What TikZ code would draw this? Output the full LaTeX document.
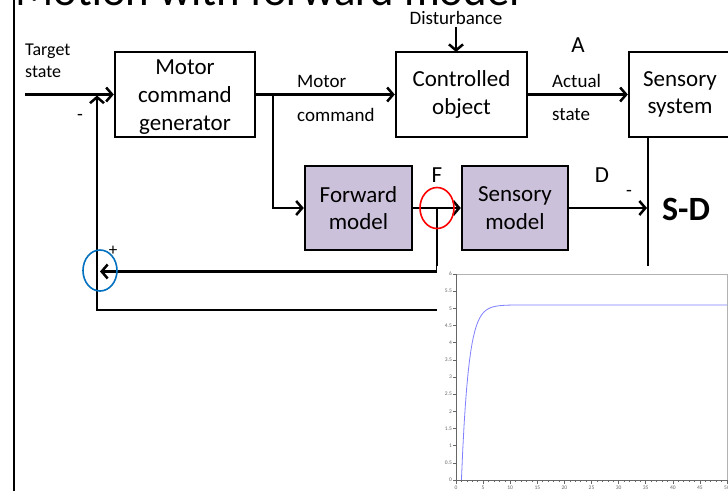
\documentclass[tikz,border=0pt]{standalone}
\usepackage{fontspec}
\setmainfont{Carlito}
\usetikzlibrary{arrows.meta}
\definecolor{lav}{HTML}{CCC1DA}
\definecolor{curveblue}{HTML}{7F7FFF}
\definecolor{sumblue}{HTML}{0070C0}
\begin{document}
\begin{tikzpicture}[x=1pt,y=-1pt,
  blk/.style={draw, line width=2.4pt, align=center, inner sep=0pt,
    font=\fontsize{23}{27.5}\selectfont},
  fblk/.style={blk, fill=lav},
  lbl/.style={inner sep=0pt, font=\fontsize{19}{22}\selectfont},
  big/.style={inner sep=0pt, font=\fontsize{23}{27}\selectfont},
  conn/.style={line width=2.5pt},
  arr/.style={-{Straight Barb[length=6pt,width=14pt]}},
  tick/.style={gray!80!black, line width=0.5pt},
  ticklbl/.style={inner sep=0.5pt, text=gray!80!black, font=\fontsize{5.5}{5.5}\selectfont}]
\useasboundingbox (0,0) rectangle (728,491);
\clip (0,0) rectangle (728,491);
% title and left rule
\node[anchor=base west, inner sep=0pt, font=\fontsize{44.8}{50}\selectfont] (title) at (15,5.5) {Motion with forward model};
\coordinate (rtop) at (14,0);
\coordinate (rbot) at (14,491);
\draw[line width=2.5pt] (rtop) -- (rbot);
% blocks
\node[blk, minimum width=140pt, minimum height=85pt] (mcg) at (185,94.5) {};
\node[inner sep=0pt, align=center, font=\fontsize{23}{28}\selectfont] (mcgt) at (185,97) {Motor\\command\\generator};
\node[blk, minimum width=131pt, minimum height=85pt] (co) at (461.5,94.5) {Controlled\\object};
\node[blk, minimum width=102pt, minimum height=85pt] (ss) at (680,94.5) {Sensory\\system};
\node[fblk, minimum width=107pt, minimum height=84pt] (fm) at (358.5,208) {Forward\\model};
\node[fblk, minimum width=106pt, minimum height=84pt] (sm) at (515,208) {Sensory\\model};
% labels
\node[lbl, anchor=west, align=left, font=\fontsize{18}{22}\selectfont] (tgt) at (25,61) {Target\\state};
\node[lbl] (dist) at (456,17.5) {Disturbance};
\node[big] (lA) at (578,45) {A};
\node[lbl, anchor=west] (mc1) at (297,81) {Motor};
\node[lbl, anchor=west] (mc2) at (297,115) {command};
\node[lbl, anchor=west] (as1) at (552,81) {Actual};
\node[lbl, anchor=west] (as2) at (552,115) {state};
\node[big] (lF) at (437,175) {F};
\node[big] (lD) at (602,175) {D};
\node[lbl] (m1) at (80,117) {-};
\node[lbl] (m2) at (629,193) {-};
\node[lbl, font=\fontsize{17}{20}\selectfont] (p1) at (113,251) {+};
\node[inner sep=0pt, font=\fontsize{34}{40}\selectfont\bfseries] (sd) at (686,209) {S-D};
% connectors
\coordinate (tin) at (25,94.5);
\draw[conn,arr] (tin) -- (mcg.west);
\draw[conn,arr] (mcg.east) -- (co.west);
\coordinate (br1) at (273,94.5);
\draw[conn,arr] (br1) |- (fm.west);
\draw[conn,arr] (co.east) -- (ss.west);
\coordinate (dtop) at (456,27);
\coordinate (dbot) at (456,52);
\draw[conn,arr] (dtop) -- (dbot);
\draw[conn,arr] (fm.east) -- (sm.west);
\coordinate (sdmid) at (647,208);
\draw[conn,arr] (sm.east) -- (sdmid);
\coordinate (brF) at (437,208);
\coordinate (sumB) at (100,271.5);
\draw[conn,arr] (brF) |- (sumB);
\coordinate (sdtop) at (648,137);
\coordinate (sdbot) at (648,310);
\coordinate (fbc) at (97,310);
\coordinate (fbtop) at (97,95.5);
\draw[conn,arr] (sdtop) -- (sdbot) -- (fbc) -- (fbtop);
% summing circles
\draw[red, line width=1.6pt] (brF) ellipse [x radius=17pt, y radius=20.5pt];
\coordinate (sumC) at (100,270.5);
\draw[sumblue, line width=1.6pt] (sumC) ellipse [x radius=17pt, y radius=20.5pt];
% plot
\fill[white] (437,266) rectangle (728,491);
\draw[gray!60, line width=0.7pt] (456,274) rectangle (727.5,480);
\draw[gray!80!black, line width=0.7pt] (456,274) -- (456,480) -- (728,480);
\foreach \lab [count=\i from 0] in {0,0.5,1,1.5,2,2.5,3,3.5,4,4.5,5,5.5,6} {
  \draw[tick] (453,{480-17.1667*\i}) -- (456,{480-17.1667*\i});
  \node[ticklbl, anchor=east] (yl\i) at (452.5,{480-17.1667*\i}) {\lab};
}
\foreach \j in {0,...,50} {
  \draw[tick] ({456+5.42*\j},480) -- ({456+5.42*\j},482);
}
\foreach \i in {0,...,10} {
  \pgfmathtruncatemacro\xl{5*\i}
  \draw[tick] ({456+27.1*\i},480) -- ({456+27.1*\i},483.5);
  \node[ticklbl] (xl\i) at ({456+27.1*\i},487.5) {\xl};
}
\draw[curveblue, line width=0.8pt] plot[domain=1:50, samples=200]
  ({456+5.42*\x},{480-34.33*5.1*(1-exp(-(\x-1)/1.3))});
\end{tikzpicture}
\end{document}
